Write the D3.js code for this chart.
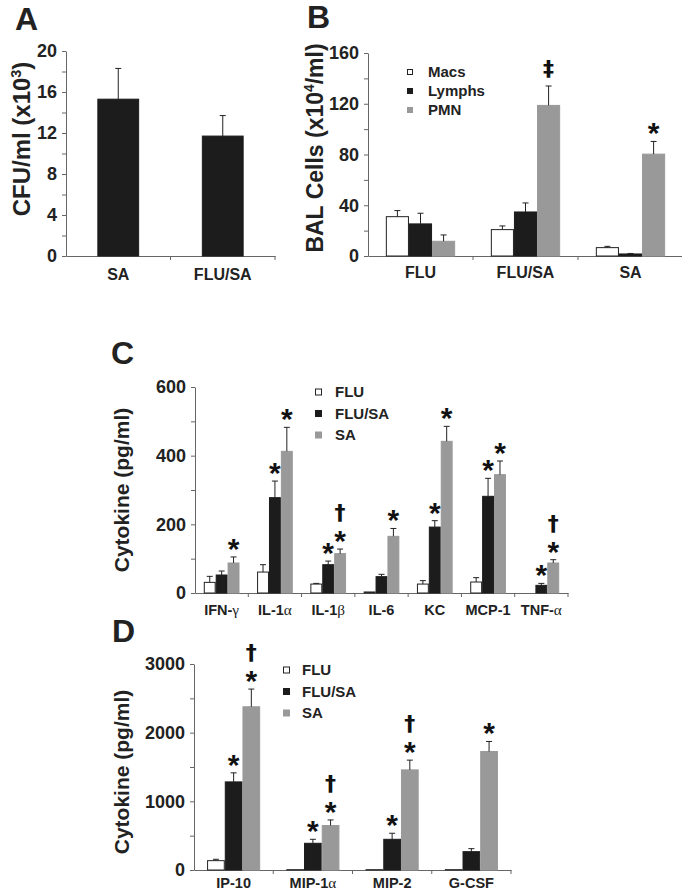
<!DOCTYPE html>
<html><head><meta charset="utf-8">
<script src="https://cdn.jsdelivr.net/npm/d3@7"></script>
<style>
body{margin:0;background:#fff;}
svg{display:block;font-family:"Liberation Sans",Arial,Helvetica,sans-serif;font-weight:bold;}
</style></head><body>
<svg id="fig" width="682" height="894"></svg>
<script>
// ---------- Panel A ----------
const catA = ["SA", "FLU/SA"];
const seriesA = ["CFU"];
const cfuA = [15.3, 11.7];
const cfuErrA = [3.0, 2.0];

// ---------- Panel B ----------
const catB = ["FLU", "FLU/SA", "SA"];
const seriesB = ["Macs", "Lymphs", "PMN"];
const macsB = [31.0, 20.8, 6.6];
const macsErrB = [4.8, 2.9, 1.0];
const lymphsB = [25.3, 34.7, 1.6];
const lymphsErrB = [8.4, 7.1, 0.4];
const pmnB = [11.6, 118.7, 80.3];
const pmnErrB = [5.0, 15.3, 10.0];
const marksB = [["", "", ""], ["", "", "‡"], ["", "", "*"]];

// ---------- Panel C ----------
const catC = ["IFN-γ", "IL-1α", "IL-1β", "IL-6", "KC", "MCP-1", "TNF-α"];
const seriesC = ["FLU", "FLU/SA", "SA"];
const fluC = [31, 61, 26, 3, 26, 32, 0];
const fluErrC = [17.5, 21.5, 2, 0, 10, 12.7, 0];
const flusaC = [52.4, 277.7, 82.5, 47.6, 192, 281.6, 22.3];
const flusaErrC = [11.6, 48.3, 10.5, 6.8, 18.7, 52.4, 5.7];
const saC = [87.4, 412.6, 114.6, 165, 441.7, 344.7, 87.4];
const saErrC = [17.6, 69.9, 13.4, 23, 43.7, 39.8, 9.6];
const marksC = [["", "", "*"], ["", "*", "*"], ["", "*", "†*"], ["", "", "*"], ["", "*", "*"], ["", "*", "*"], ["", "*", "†*"]];

// ---------- Panel D ----------
const catD = ["IP-10", "MIP-1α", "MIP-2", "G-CSF"];
const seriesD = ["FLU", "FLU/SA", "SA"];
const fluD = [136, 5, 5, 5];
const fluErrD = [20, 0, 0, 0];
const flusaD = [1283, 389, 447, 267];
const flusaErrD = [132, 58, 88, 44];
const saD = [2377, 647, 1458, 1726];
const saErrD = [258, 82, 142, 146];
const marksD = [["", "*", "†*"], ["", "*", "†*"], ["", "*", "†*"], ["", "", "*"]];

const FONT = '"Liberation Sans", Arial, Helvetica, sans-serif';
const DAGGER_FONT = '"DejaVu Sans", "Liberation Sans", sans-serif';
const COLORS = {white: "#ffffff", black: "#1c1c1c", gray: "#999999"};
const AXIS = "#666";
const svg = d3.select("#fig");

function greekLabel(sel) {
  sel.each(function () {
    const t = d3.select(this);
    const s = t.text();
    const m = s.match(/^(.*?)([αβγ])$/);
    if (m) {
      t.text(null);
      t.append("tspan").text(m[1]);
      t.append("tspan").attr("font-family", '"Liberation Serif", "Times New Roman", serif')
        .attr("font-weight", "normal").attr("font-size", "1.05em").text(m[2]);
    }
  });
}

function panel(cfg) {
  const {cats, series, vals, errs, colors, x0, x1, yTop, yBot, yMax, step, labelStep,
    frac, tickFs, catFs, catGap, marks} = cfg;
  const y = d3.scaleLinear().domain([0, yMax]).range([yBot, yTop]);
  const x = d3.scaleBand().domain(cats).range([x0, x1]).padding(0);
  const bw = x.bandwidth();
  const xs = d3.scaleBand().domain(series).range([bw * (1 - frac) / 2, bw * (1 + frac) / 2]).padding(0);
  const g = svg.append("g");

  // y axis
  const ya = d3.axisLeft(y)
    .tickValues(d3.range(0, yMax + step / 2, step))
    .tickFormat(d => (d % labelStep === 0 ? d : ""))
    .tickSize(4).tickSizeOuter(0).tickPadding(5);
  g.append("g").attr("transform", `translate(${x0},0)`).call(ya)
    .attr("font-family", FONT).attr("font-size", tickFs).attr("font-weight", "bold")
    .call(s => {
      s.select(".domain").attr("stroke", AXIS);
      s.selectAll(".tick line").attr("stroke", AXIS);
      s.selectAll(".tick text").attr("fill", "#222");
    });

  // x axis
  const xa = d3.axisBottom(x).tickSize(0).tickSizeOuter(0).tickPadding(0);
  g.append("g").attr("transform", `translate(0,${yBot})`).call(xa)
    .attr("font-family", FONT).attr("font-size", catFs).attr("font-weight", "bold")
    .call(s => {
      s.select(".domain").attr("stroke", AXIS);
      s.selectAll(".tick text").attr("fill", "#222").attr("dy", null).attr("y", catGap).call(greekLabel);
    });
  // separator ticks at band boundaries
  g.append("g").selectAll("line").data(cats).join("line")
    .attr("x1", d => x(d) + bw).attr("x2", d => x(d) + bw)
    .attr("y1", yBot).attr("y2", yBot + 4).attr("stroke", AXIS);

  // bars
  const items = [];
  cats.forEach((c, i) => series.forEach((s, j) => {
    items.push({c, s, v: vals[j][i], e: errs[j][i], col: colors[j], mark: marks ? marks[i][j] : ""});
  }));
  const cx = d => x(d.c) + xs(d.s) + xs.bandwidth() / 2;
  g.append("g").selectAll("rect").data(items).join("rect")
    .attr("x", d => x(d.c) + xs(d.s) + 0.5)
    .attr("y", d => y(d.v))
    .attr("width", xs.bandwidth() - 1)
    .attr("height", d => y(0) - y(d.v))
    .attr("fill", d => COLORS[d.col])
    .attr("stroke", d => (d.col === "white" ? "#222" : COLORS[d.col]))
    .attr("stroke-width", 1);

  // error bars
  const eg = g.append("g").attr("stroke", "#222").attr("stroke-width", 1);
  const withErr = items.filter(d => d.e > 0);
  eg.selectAll("line.v").data(withErr).join("line").attr("class", "v")
    .attr("x1", cx).attr("x2", cx).attr("y1", d => y(d.v)).attr("y2", d => y(d.v + d.e));
  eg.selectAll("line.c").data(withErr).join("line").attr("class", "c")
    .attr("x1", d => cx(d) - 3).attr("x2", d => cx(d) + 3)
    .attr("y1", d => y(d.v + d.e)).attr("y2", d => y(d.v + d.e));

  // significance marks
  const ag = g.append("g").attr("font-family", FONT).attr("font-weight", "bold").attr("fill", "#111")
    .attr("text-anchor", "middle");
  items.filter(d => d.mark).forEach(d => {
    const top = y(d.v + d.e);
    if (d.mark.includes("*")) {
      const sc = top - 15;
      ag.append("text").attr("x", cx(d)).attr("y", sc + 17).attr("font-size", 30).text("*");
      if (d.mark.includes("†")) {
        ag.append("text").attr("x", cx(d)).attr("y", sc - 21 + 7).attr("font-size", 22)
          .attr("font-family", DAGGER_FONT).text("†");
      }
    } else if (d.mark.includes("‡")) {
      ag.append("text").attr("x", cx(d)).attr("y", top - 16.5 + 7).attr("font-size", 22)
        .attr("font-family", DAGGER_FONT).text("‡");
    }
  });
  return {x, y};
}

function legend(items, sqX, textX, base, stepY, sq) {
  const g = svg.append("g").attr("font-family", FONT).attr("font-weight", "bold").attr("font-size", 15);
  items.forEach((it, i) => {
    const b = base + i * stepY;
    g.append("rect").attr("x", sqX + 0.5).attr("y", b - 5 - sq / 2 + 0.5).attr("width", sq - 1).attr("height", sq - 1)
      .attr("fill", COLORS[it.col]).attr("stroke", it.col === "white" ? "#222" : COLORS[it.col]);
    g.append("text").attr("x", textX).attr("y", b).attr("fill", "#222").text(it.name);
  });
}

function yTitle(x, cy, fs, parts) {
  const t = svg.append("text").attr("transform", `translate(${x},${cy}) rotate(-90)`)
    .attr("text-anchor", "middle").attr("font-family", FONT).attr("font-weight", "bold")
    .attr("font-size", fs).attr("fill", "#222");
  parts.forEach(p => {
    const ts = t.append("tspan").text(p.t);
    if (p.sup) ts.attr("font-size", fs * 0.6).attr("dy", -fs * 0.38);
    if (p.down) ts.attr("dy", fs * 0.38);
  });
}

function letter(x, y, s) {
  svg.append("text").attr("x", x).attr("y", y).attr("font-family", FONT).attr("font-weight", "bold")
    .attr("font-size", 32).attr("fill", "#222").text(s);
}

// Panel A
panel({cats: catA, series: seriesA, vals: [cfuA], errs: [cfuErrA], colors: ["black"],
  x0: 66, x1: 275, yTop: 51, yBot: 256, yMax: 20, step: 2, labelStep: 4, frac: 0.4,
  tickFs: 18, catFs: 16, catGap: 24});
letter(15, 30, "A");
yTitle(30, 139, 24, [{t: "CFU/ml (x10"}, {t: "3", sup: true}, {t: ")", down: true}]);

// Panel B
panel({cats: catB, series: seriesB, vals: [macsB, lymphsB, pmnB], errs: [macsErrB, lymphsErrB, pmnErrB],
  colors: ["white", "black", "gray"], x0: 368, x1: 683, yTop: 53, yBot: 256, yMax: 160, step: 20,
  labelStep: 40, frac: 0.66, tickFs: 18, catFs: 16, catGap: 22, marks: marksB});
letter(307, 28, "B");
yTitle(323, 148, 23, [{t: "BAL Cells (x10"}, {t: "4", sup: true}, {t: "/ml)", down: true}]);
legend([{name: seriesB[0], col: "white"}, {name: seriesB[1], col: "black"}, {name: seriesB[2], col: "gray"}],
  407, 428, 77, 19, 6);

// Panel C
panel({cats: catC, series: seriesC, vals: [fluC, flusaC, saC], errs: [fluErrC, flusaErrC, saErrC],
  colors: ["white", "black", "gray"], x0: 195, x1: 568, yTop: 387, yBot: 593, yMax: 600, step: 100,
  labelStep: 200, frac: 0.67, tickFs: 18, catFs: 14.5, catGap: 22, marks: marksC});
letter(111, 364, "C");
yTitle(129, 490, 21, [{t: "Cytokine (pg/ml)"}]);
legend([{name: seriesC[0], col: "white"}, {name: seriesC[1], col: "black"}, {name: seriesC[2], col: "gray"}],
  315, 335, 397, 21.5, 7);

// Panel D
panel({cats: catD, series: seriesD, vals: [fluD, flusaD, saD], errs: [fluErrD, flusaErrD, saErrD],
  colors: ["white", "black", "gray"], x0: 194, x1: 511, yTop: 664, yBot: 870, yMax: 3000, step: 500,
  labelStep: 1000, frac: 0.67, tickFs: 18, catFs: 14.5, catGap: 18, marks: marksD});
letter(112, 642, "D");
yTitle(129, 772, 21, [{t: "Cytokine (pg/ml)"}]);
legend([{name: seriesD[0], col: "white"}, {name: seriesD[1], col: "black"}, {name: seriesD[2], col: "gray"}],
  283, 302, 675, 21.5, 7);
</script>
</body></html>
